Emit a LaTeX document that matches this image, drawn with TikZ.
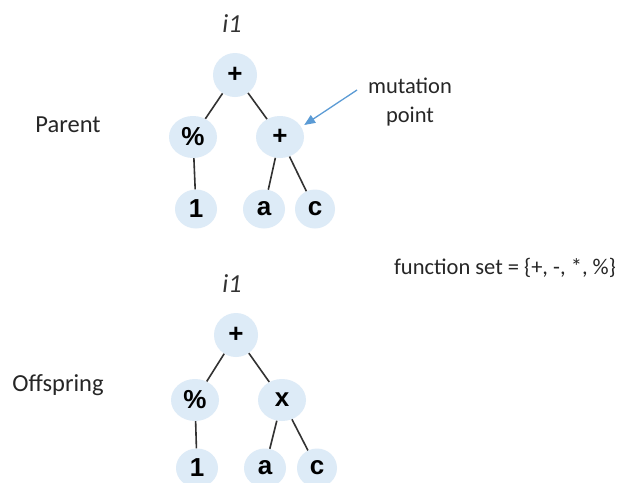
\documentclass[tikz,border=0pt]{standalone}
\usepackage{fontspec}
\setmainfont{Carlito}
\newfontfamily\nodefont{Liberation Sans}
\usetikzlibrary{shapes.geometric,arrows.meta}
\definecolor{nodefill}{RGB}{221,235,247}
\definecolor{arrowblue}{RGB}{91,155,213}
\definecolor{edgegray}{RGB}{50,50,50}
\tikzset{
  tnode/.style={ellipse,fill=nodefill,inner sep=0pt,
    font=\nodefont\bfseries\fontsize{26}{28}\selectfont},
  rootn/.style={tnode,minimum width=44pt,minimum height=44pt},
  midn/.style={tnode,minimum width=48pt,minimum height=42pt},
  leafn/.style={tnode,minimum width=42pt,minimum height=39pt},
  edge/.style={draw=edgegray,line width=1.6pt},
  label/.style={font=\fontsize{22.5}{29}\selectfont,text=black!85},
  rowlabel/.style={font=\fontsize{24.5}{29}\selectfont,text=black!85},
  treename/.style={font=\itshape\fontsize{26}{28}\selectfont,text=black!80},
}
\begin{document}
\begin{tikzpicture}[x=1pt,y=-1pt]
  \useasboundingbox (0,0) rectangle (617,482);
  \fill[white] (0,0) rectangle (617,482);
  \clip (0,0) rectangle (617,482);

  % parent tree
  \node[treename] (pname) at (232,24) {i1};
  \node[rootn] (p0) at (235,75) {+};
  \node[midn] (p1) at (193,137) {\%};
  \node[midn] (p2) at (280,137) {+};
  \node[leafn] (p11) at (196,209) {1};
  \node[leafn] (p21) at (264,209) {a};
  \node[leafn,minimum width=40pt] (p22) at (315,209) {c};
  \draw[edge] (p0) -- (p1);
  \draw[edge] (p0) -- (p2);
  \draw[edge] (p1) -- (p11);
  \draw[edge] (p2) -- (p21);
  \draw[edge] (p2) -- (p22);

  % offspring tree
  \node[treename] (oname) at (232,284) {i1};
  \node[rootn] (o0) at (236,335) {+};
  \node[midn] (o1) at (195,400) {\%};
  \node[midn] (o2) at (282,400) {x};
  \node[leafn] (o11) at (197,468) {1};
  \node[leafn] (o21) at (265,468) {a};
  \node[leafn,minimum width=40pt] (o22) at (317,468) {c};
  \draw[edge] (o0) -- (o1);
  \draw[edge] (o0) -- (o2);
  \draw[edge] (o1) -- (o11);
  \draw[edge] (o2) -- (o21);
  \draw[edge] (o2) -- (o22);

  % side labels
  \node[rowlabel] (parent) at (68,125) {Parent};
  \node[rowlabel] (offspring) at (58,385) {Offspring};
  \node[label,align=center] (mut) at (410,102) {mutation\\point};
  \node[label] (fset) at (505,268) {function set = \{+, -, *, \%\}};

  % mutation arrow
  \coordinate (mstart) at (357,90);
  \draw[arrowblue,line width=1.3pt,-{Triangle[length=11pt,width=9pt]}] (mstart) -- (p2.east |- 0,125) ;
\end{tikzpicture}
\end{document}
